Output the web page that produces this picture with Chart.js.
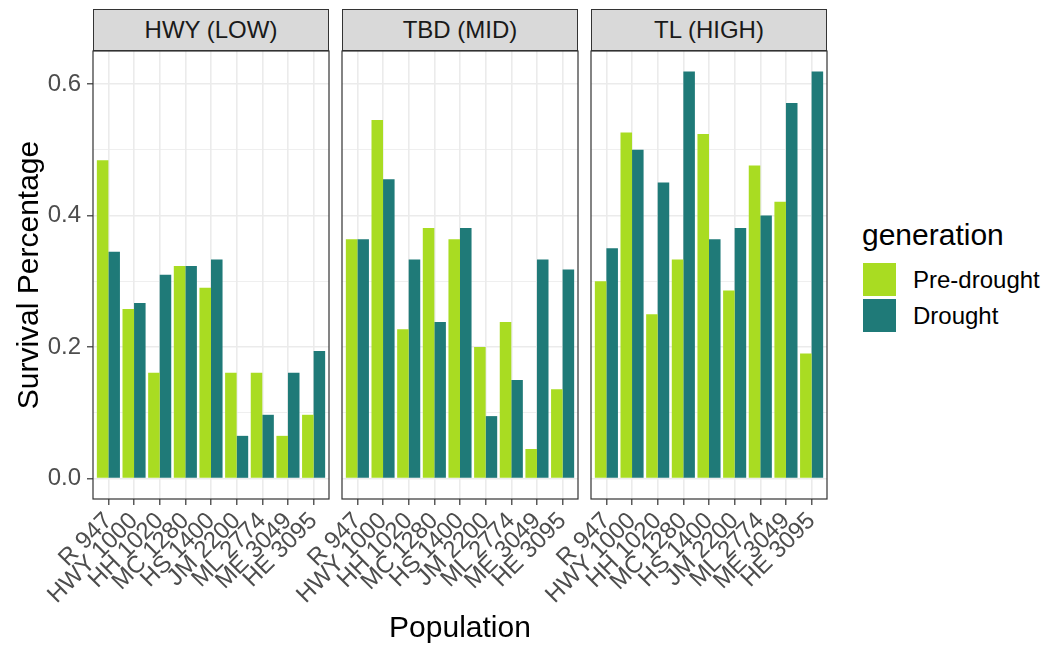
<!DOCTYPE html>
<html>
<head>
<meta charset="utf-8">
<script src="https://cdn.jsdelivr.net/npm/chart.js@4"></script>
<style>
    body { margin: 0; background: #fff; font-family: 'Liberation Sans', Arial, sans-serif; }
    #wrap { position: relative; width: 1052px; height: 648px; overflow: hidden; }
    #wrap canvas { position: absolute; top: 47px; }
    .strip {
        position: absolute; top: 9px; width: 234px; height: 40px;
        background: #d9d9d9; border: 1px solid #333;
        font-size: 24px; line-height: 40px; text-align: center; color: #1a1a1a;
    }
    .key { position: absolute; left: 863px; width: 33px; height: 33px; }
    .lab { position: absolute; left: 913px; font-size: 24px; line-height: 24px; color: #000; white-space: nowrap; }
</style>
</head>
<body>
<div id="wrap">
    <div class="strip" style="left:93px">HWY (LOW)</div>
    <div class="strip" style="left:342px">TBD (MID)</div>
    <div class="strip" style="left:591px">TL (HIGH)</div>
    <canvas id="c0" width="333" height="601" style="left:0px"></canvas>
    <canvas id="c1" width="333" height="601" style="left:249px"></canvas>
    <canvas id="c2" width="333" height="601" style="left:498px"></canvas>

    <div style="position:absolute;left:0;width:920px;top:612px;text-align:center;font-size:30px;line-height:30px">Population</div>

    <div style="position:absolute;left:862px;top:220px;font-size:30px;line-height:30px">generation</div>
    <div class="key" style="top:263px;background:#a9dc22"></div>
    <div class="key" style="top:299px;background:#1f7a78"></div>
    <div class="lab" style="top:268px">Pre-drought</div>
    <div class="lab" style="top:304px">Drought</div>
</div>

<script>
const populations = ['R 947', 'HWY 1000', 'HH 1020', 'MC 1280', 'HS 1400', 'JM 2200', 'ML 2774', 'ME 3049', 'HE 3095']
const sites = ['HWY (LOW)', 'TBD (MID)', 'TL (HIGH)']

// survival per population, one pair of arrays per site
const hwyPre     = [0.484, 0.258, 0.161, 0.323, 0.290, 0.161, 0.161, 0.065, 0.097]
const hwyDrought = [0.345, 0.267, 0.310, 0.323, 0.333, 0.065, 0.097, 0.161, 0.194]
const tbdPre     = [0.364, 0.545, 0.227, 0.381, 0.364, 0.200, 0.238, 0.045, 0.136]
const tbdDrought = [0.364, 0.455, 0.333, 0.238, 0.381, 0.095, 0.150, 0.333, 0.318]
const tlPre      = [0.300, 0.526, 0.250, 0.333, 0.524, 0.286, 0.476, 0.421, 0.190]
const tlDrought  = [0.350, 0.500, 0.450, 0.619, 0.364, 0.381, 0.400, 0.571, 0.619]

const yTicks = [0, 0.2, 0.4, 0.6]

const preColor = '#a9dc22'
const droughtColor = '#1f7a78'

Chart.defaults.font.family = "'Liberation Sans', Arial, sans-serif"

const panelBorder = {
    id: 'panelBorder',
    afterDraw(chart) {
        const { ctx, chartArea: a } = chart
        ctx.save()
        ctx.strokeStyle = '#333'
        ctx.lineWidth = 1.2
        ctx.strokeRect(a.left, a.top, a.right - a.left, a.bottom - a.top)
        ctx.restore()
    }
}

function isMajor(v) {
    return yTicks.some(t => Math.abs(t - v) < 1e-6)
}

function toPoints(values) {
    return values.map((v, i) => ({ x: i + 1, y: v }))
}

function makePanel(id, pre, drought, showY) {
    new Chart(document.getElementById(id), {
        type: 'bar',
        data: {
            datasets: [
                { label: 'Pre-drought', data: toPoints(pre), backgroundColor: preColor },
                { label: 'Drought', data: toPoints(drought), backgroundColor: droughtColor }
            ]
        },
        plugins: [panelBorder],
        options: {
            responsive: false,
            animation: false,
            categoryPercentage: 0.9,
            barPercentage: 1,
            layout: { padding: { top: 4, right: 4, left: 0, bottom: 0 } },
            plugins: { legend: { display: false }, tooltip: { enabled: false } },
            scales: {
                x: {
                    type: 'linear',
                    min: 0.4,
                    max: 9.6,
                    offset: false,
                    afterFit: (s) => { s.height = 149; s.paddingLeft = 0; s.paddingRight = 0 },
                    border: { display: false },
                    grid: { offset: false, color: '#ebebeb', lineWidth: 1.6, tickColor: '#333', tickLength: 6, tickWidth: 1.2 },
                    ticks: {
                        stepSize: 1,
                        includeBounds: false,
                        autoSkip: false,
                        minRotation: 45,
                        maxRotation: 45,
                        padding: 2,
                        color: '#4d4d4d',
                        font: { size: 24 },
                        callback: (v) => populations[Math.round(v) - 1]
                    }
                },
                y: {
                    min: -0.031,
                    max: 0.65,
                    afterFit: (s) => { s.width = 93; s.paddingTop = 0; s.paddingBottom = 0 },
                    border: { display: false },
                    grid: {
                        color: '#ebebeb',
                        lineWidth: (c) => isMajor(c.tick.value) ? 1.6 : 0.8,
                        tickColor: (c) => showY && isMajor(c.tick.value) ? '#333' : 'transparent',
                        tickLength: 6,
                        tickWidth: 1.2
                    },
                    ticks: {
                        display: showY,
                        stepSize: 0.1,
                        includeBounds: false,
                        padding: 6,
                        color: '#4d4d4d',
                        font: { size: 24 },
                        callback: (v) => isMajor(v) ? v.toFixed(1) : ''
                    },
                    title: {
                        display: showY,
                        text: 'Survival Percentage',
                        color: '#000',
                        font: { size: 30 },
                        padding: { top: 12, bottom: 0 }
                    }
                }
            }
        }
    })
}

makePanel('c0', hwyPre, hwyDrought, true)
makePanel('c1', tbdPre, tbdDrought, false)
makePanel('c2', tlPre, tlDrought, false)
</script>
</body>
</html>
